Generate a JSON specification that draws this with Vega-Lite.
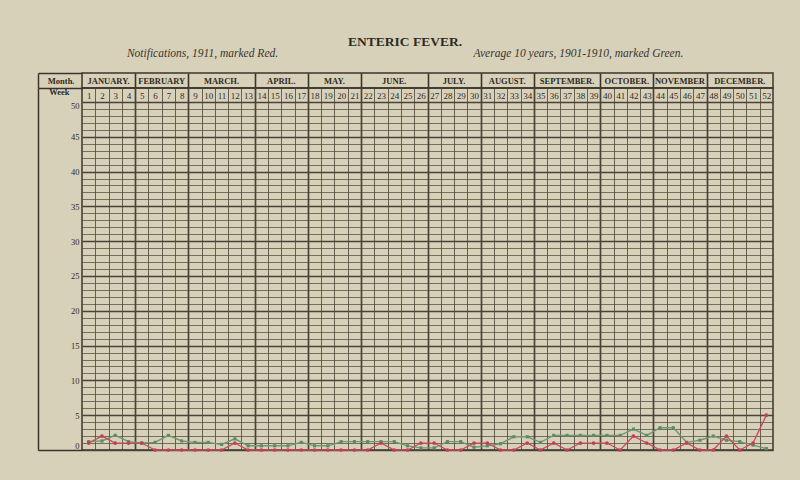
{
  "$schema": "https://vega.github.io/schema/vega-lite/v6.json",
  "background": "#d8d1ba",
  "padding": {"left": 36, "top": 34, "right": 29, "bottom": 27},
  "autosize": {"type": "pad"},
  "spacing": 0,
  "bounds": "flush",
  "title": {
    "text": "ENTERIC FEVER.",
    "subtitle": "Notifications, 1911, marked Red.\u00a0\u00a0\u00a0\u00a0\u00a0\u00a0\u00a0\u00a0\u00a0\u00a0\u00a0\u00a0\u00a0\u00a0\u00a0\u00a0\u00a0\u00a0\u00a0\u00a0\u00a0\u00a0\u00a0\u00a0\u00a0\u00a0\u00a0\u00a0\u00a0\u00a0\u00a0\u00a0\u00a0\u00a0\u00a0\u00a0\u00a0\u00a0\u00a0\u00a0\u00a0\u00a0\u00a0\u00a0\u00a0\u00a0\u00a0\u00a0\u00a0\u00a0\u00a0\u00a0\u00a0\u00a0\u00a0\u00a0\u00a0\u00a0\u00a0\u00a0\u00a0\u00a0\u00a0\u00a0\u00a0\u00a0\u00a0\u00a0Average 10 years, 1901-1910, marked Green.",
    "anchor": "middle",
    "frame": "bounds",
    "font": "Liberation Serif",
    "fontSize": 13.5,
    "fontWeight": "bold",
    "color": "#2f2a24",
    "subtitleFont": "Liberation Serif",
    "subtitleFontSize": 11.5,
    "subtitleFontStyle": "italic",
    "subtitleColor": "#3a342c",
    "subtitlePadding": 0,
    "offset": 12
  },
  "datasets": {
    "weeks": [
      {"week": 1, "month": "JANUARY.", "notified_1911": 1, "average_1901_1910": 1.2},
      {"week": 2, "month": "JANUARY.", "notified_1911": 2, "average_1901_1910": 1.3},
      {"week": 3, "month": "JANUARY.", "notified_1911": 1, "average_1901_1910": 2.1},
      {"week": 4, "month": "JANUARY.", "notified_1911": 1, "average_1901_1910": 1.2},
      {"week": 5, "month": "FEBRUARY", "notified_1911": 1, "average_1901_1910": 1.0},
      {"week": 6, "month": "FEBRUARY", "notified_1911": 0, "average_1901_1910": 1.1},
      {"week": 7, "month": "FEBRUARY", "notified_1911": 0, "average_1901_1910": 2.1},
      {"week": 8, "month": "FEBRUARY", "notified_1911": 0, "average_1901_1910": 1.3},
      {"week": 9, "month": "MARCH.", "notified_1911": 0, "average_1901_1910": 1.1},
      {"week": 10, "month": "MARCH.", "notified_1911": 0, "average_1901_1910": 1.1},
      {"week": 11, "month": "MARCH.", "notified_1911": 0, "average_1901_1910": 0.8},
      {"week": 12, "month": "MARCH.", "notified_1911": 1, "average_1901_1910": 1.6},
      {"week": 13, "month": "MARCH.", "notified_1911": 0, "average_1901_1910": 0.6},
      {"week": 14, "month": "APRIL.", "notified_1911": 0, "average_1901_1910": 0.6},
      {"week": 15, "month": "APRIL.", "notified_1911": 0, "average_1901_1910": 0.6},
      {"week": 16, "month": "APRIL.", "notified_1911": 0, "average_1901_1910": 0.6},
      {"week": 17, "month": "APRIL.", "notified_1911": 0, "average_1901_1910": 1.1},
      {"week": 18, "month": "MAY.", "notified_1911": 0, "average_1901_1910": 0.6},
      {"week": 19, "month": "MAY.", "notified_1911": 0, "average_1901_1910": 0.6},
      {"week": 20, "month": "MAY.", "notified_1911": 0, "average_1901_1910": 1.2},
      {"week": 21, "month": "MAY.", "notified_1911": 0, "average_1901_1910": 1.2},
      {"week": 22, "month": "JUNE.", "notified_1911": 0, "average_1901_1910": 1.2},
      {"week": 23, "month": "JUNE.", "notified_1911": 1, "average_1901_1910": 1.2},
      {"week": 24, "month": "JUNE.", "notified_1911": 0, "average_1901_1910": 1.2},
      {"week": 25, "month": "JUNE.", "notified_1911": 0, "average_1901_1910": 0.6},
      {"week": 26, "month": "JUNE.", "notified_1911": 1, "average_1901_1910": 0.3},
      {"week": 27, "month": "JULY.", "notified_1911": 1, "average_1901_1910": 0.3},
      {"week": 28, "month": "JULY.", "notified_1911": 0, "average_1901_1910": 1.2},
      {"week": 29, "month": "JULY.", "notified_1911": 0, "average_1901_1910": 1.2},
      {"week": 30, "month": "JULY.", "notified_1911": 1, "average_1901_1910": 0.4},
      {"week": 31, "month": "AUGUST.", "notified_1911": 1, "average_1901_1910": 0.6},
      {"week": 32, "month": "AUGUST.", "notified_1911": 0, "average_1901_1910": 0.9},
      {"week": 33, "month": "AUGUST.", "notified_1911": 0, "average_1901_1910": 1.9},
      {"week": 34, "month": "AUGUST.", "notified_1911": 1, "average_1901_1910": 1.9},
      {"week": 35, "month": "SEPTEMBER.", "notified_1911": 0, "average_1901_1910": 1.1},
      {"week": 36, "month": "SEPTEMBER.", "notified_1911": 1, "average_1901_1910": 2.1},
      {"week": 37, "month": "SEPTEMBER.", "notified_1911": 0, "average_1901_1910": 2.1},
      {"week": 38, "month": "SEPTEMBER.", "notified_1911": 1, "average_1901_1910": 2.1},
      {"week": 39, "month": "SEPTEMBER.", "notified_1911": 1, "average_1901_1910": 2.1},
      {"week": 40, "month": "OCTOBER.", "notified_1911": 1, "average_1901_1910": 2.1},
      {"week": 41, "month": "OCTOBER.", "notified_1911": 0, "average_1901_1910": 2.1},
      {"week": 42, "month": "OCTOBER.", "notified_1911": 2, "average_1901_1910": 3.0},
      {"week": 43, "month": "OCTOBER.", "notified_1911": 1, "average_1901_1910": 2.1},
      {"week": 44, "month": "NOVEMBER", "notified_1911": 0, "average_1901_1910": 3.2},
      {"week": 45, "month": "NOVEMBER", "notified_1911": 0, "average_1901_1910": 3.2},
      {"week": 46, "month": "NOVEMBER", "notified_1911": 1, "average_1901_1910": 1.1},
      {"week": 47, "month": "NOVEMBER", "notified_1911": 0, "average_1901_1910": 1.4},
      {"week": 48, "month": "DECEMBER.", "notified_1911": 0, "average_1901_1910": 2.0},
      {"week": 49, "month": "DECEMBER.", "notified_1911": 2, "average_1901_1910": 1.4},
      {"week": 50, "month": "DECEMBER.", "notified_1911": 0, "average_1901_1910": 1.2},
      {"week": 51, "month": "DECEMBER.", "notified_1911": 1, "average_1901_1910": 0.7},
      {"week": 52, "month": "DECEMBER.", "notified_1911": 5, "average_1901_1910": 0.2}
    ]
  },
  "config": {
    "view": {"stroke": "#3b342b", "strokeWidth": 1.5},
    "axis": {"labelFont": "Liberation Serif", "labelColor": "#2f2a24", "domainColor": "#3b342b", "tickColor": "#3b342b", "title": null}
  },
  "vconcat": [
    {
      "width": 691,
      "height": 15,
      "data": {"name": "weeks"},
      "layer": [
        {
          "mark": {"type": "text", "font": "Liberation Serif", "fontSize": 8.5, "fontWeight": "bold", "color": "#2f2a24", "baseline": "middle"},
          "encoding": {
            "x": {"aggregate": "mean", "field": "week", "type": "quantitative",
              "scale": {"domain": [0.5, 52.5], "nice": false, "zero": false},
              "axis": {"orient": "bottom", "values": [4.5, 8.5, 13.5, 17.5, 21.5, 26.5, 30.5, 34.5, 39.5, 43.5, 47.5], "grid": true, "gridColor": "#3b342b", "gridWidth": 1.6, "gridOpacity": 1, "labels": false, "ticks": false, "domain": false}},
            "y": {"datum": 0.5, "type": "quantitative",
              "scale": {"domain": [0, 1], "nice": false, "zero": false},
              "axis": {"orient": "left", "values": [0.5], "labelExpr": "'Month.'", "labelPadding": 8, "labelFontSize": 8.5, "labelFontWeight": "bold", "ticks": false, "tickSize": 0, "domain": false, "grid": false}},
            "text": {"field": "month", "type": "nominal"}
          }
        },
        {
          "mark": {"type": "text", "opacity": 0},
          "encoding": {
            "x": {"aggregate": "mean", "field": "week", "type": "quantitative",
              "scale": {"domain": [0.5, 52.5], "nice": false, "zero": false}, "axis": null},
            "y": {"datum": 0.5, "type": "quantitative",
              "scale": {"domain": [0, 1], "nice": false, "zero": false},
              "axis": {"orient": "right", "offset": -735, "values": [1], "tickSize": 44, "ticks": true, "tickWidth": 1.5, "labels": false, "domain": true, "domainWidth": 1.5, "grid": false}},
            "text": {"field": "month", "type": "nominal"}
          }
        }
      ],
      "resolve": {"scale": {"x": "independent", "y": "independent"}, "axis": {"x": "independent", "y": "independent"}}
    },
    {
      "width": 691,
      "height": 362,
      "data": {"name": "weeks"},
      "layer": [
        {
          "mark": {"type": "line", "color": "#6e9a72", "strokeWidth": 1.4},
          "encoding": {
            "x": {"field": "week", "type": "quantitative",
              "scale": {"domain": [0.5, 52.5], "nice": false, "zero": false},
              "axis": {"orient": "bottom", "values": [1.5, 2.5, 3.5, 4.5, 5.5, 6.5, 7.5, 8.5, 9.5, 10.5, 11.5, 12.5, 13.5, 14.5, 15.5, 16.5, 17.5, 18.5, 19.5, 20.5, 21.5, 22.5, 23.5, 24.5, 25.5, 26.5, 27.5, 28.5, 29.5, 30.5, 31.5, 32.5, 33.5, 34.5, 35.5, 36.5, 37.5, 38.5, 39.5, 40.5, 41.5, 42.5, 43.5, 44.5, 45.5, 46.5, 47.5, 48.5, 49.5, 50.5, 51.5], "grid": true, "gridColor": "#4a4236", "gridWidth": {"condition": {"test": "indexof([4.5, 8.5, 13.5, 17.5, 21.5, 26.5, 30.5, 34.5, 39.5, 43.5, 47.5], datum.value) >= 0", "value": 1.7}, "value": 0.8}, "gridOpacity": 1, "labels": false, "ticks": false, "domain": false}},
            "y": {"field": "average_1901_1910", "type": "quantitative",
              "scale": {"domain": [0, 52], "nice": false, "zero": false},
              "axis": {"orient": "left", "values": [0, 1, 2, 3, 4, 5, 6, 7, 8, 9, 10, 11, 12, 13, 14, 15, 16, 17, 18, 19, 20, 21, 22, 23, 24, 25, 26, 27, 28, 29, 30, 31, 32, 33, 34, 35, 36, 37, 38, 39, 40, 41, 42, 43, 44, 45, 46, 47, 48, 49, 50, 51.5],
                "grid": true, "gridColor": "#4a4236",
                "gridWidth": {"condition": {"test": "datum.value % 5 == 0", "value": 1.5}, "value": 0.7},
                "gridOpacity": {"condition": {"test": "datum.value > 50", "value": 0}, "value": 1},
                "labelExpr": "datum.value > 50 ? 'Week' : (datum.value % 5 == 0 ? datum.label : '')",
                "labelPadding": {"condition": {"test": "datum.value > 50", "value": 13}, "value": 3},
                "labelBaseline": {"condition": [{"test": "datum.value == 0", "value": "bottom"}, {"test": "datum.value == 50", "value": "top"}], "value": "middle"},
                "labelFontWeight": {"condition": {"test": "datum.value > 50", "value": "bold"}, "value": "normal"},
                "labelFontSize": 8.5, "labelOverlap": false, "labelFlush": false,
                "ticks": false, "tickSize": 0, "domain": false}}
          }
        },
        {
          "mark": {"type": "line", "color": "#c64b5e", "strokeWidth": 1.3},
          "encoding": {
            "x": {"field": "week", "type": "quantitative",
              "scale": {"domain": [0.5, 52.5], "nice": false, "zero": false},
              "axis": {"orient": "top", "offset": -14, "values": [1, 2, 3, 4, 5, 6, 7, 8, 9, 10, 11, 12, 13, 14, 15, 16, 17, 18, 19, 20, 21, 22, 23, 24, 25, 26, 27, 28, 29, 30, 31, 32, 33, 34, 35, 36, 37, 38, 39, 40, 41, 42, 43, 44, 45, 46, 47, 48, 49, 50, 51, 52], "labels": true, "labelBaseline": "middle", "labelPadding": 7, "labelFontSize": 9, "labelFlush": false, "labelOverlap": false, "ticks": false, "tickSize": 0, "domain": false, "grid": false}},
            "y": {"field": "notified_1911", "type": "quantitative",
              "scale": {"domain": [0, 52], "nice": false, "zero": false},
              "axis": {"orient": "right", "offset": -735, "values": [0, 52], "tickSize": 44, "ticks": true, "tickWidth": 1.5, "labels": false, "domain": true, "domainWidth": 1.5, "grid": false}}
          }
        },
        {
          "mark": {"type": "point", "shape": "square", "filled": true, "size": 10, "color": "#5f8a65", "opacity": 1},
          "encoding": {
            "x": {"field": "week", "type": "quantitative",
              "scale": {"domain": [0.5, 52.5], "nice": false, "zero": false}, "axis": null},
            "y": {"field": "average_1901_1910", "type": "quantitative",
              "scale": {"domain": [0, 52], "nice": false, "zero": false}, "axis": null}
          }
        },
        {
          "mark": {"type": "point", "shape": "circle", "filled": true, "size": 14, "color": "#c23f55", "opacity": 1},
          "encoding": {
            "x": {"field": "week", "type": "quantitative",
              "scale": {"domain": [0.5, 52.5], "nice": false, "zero": false}, "axis": null},
            "y": {"field": "notified_1911", "type": "quantitative",
              "scale": {"domain": [0, 52], "nice": false, "zero": false}, "axis": null}
          }
        }
      ],
      "resolve": {"scale": {"x": "independent", "y": "independent"}, "axis": {"x": "independent", "y": "independent"}}
    }
  ]
}
